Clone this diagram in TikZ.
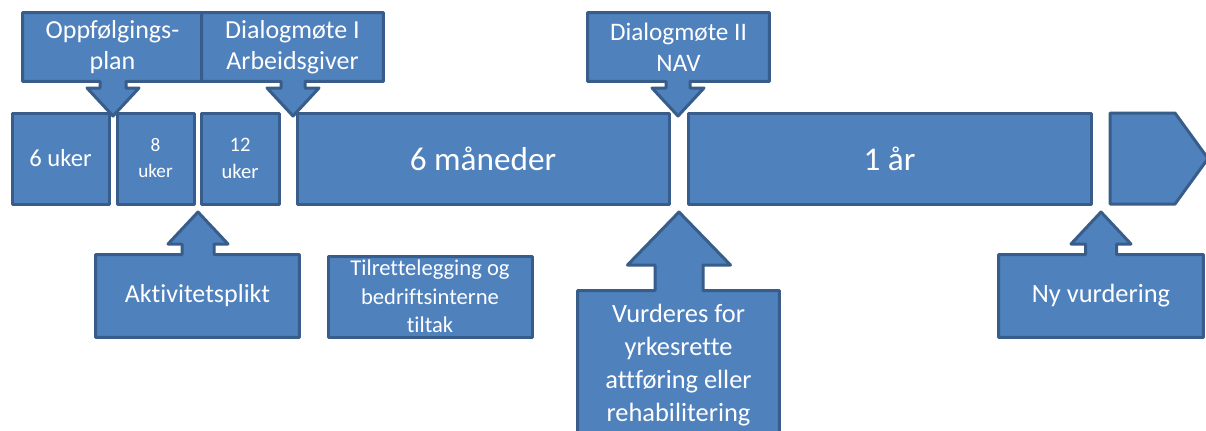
\documentclass[tikz,border=0pt]{standalone}
\usepackage{fontspec}
\setmainfont{Carlito}[Ligatures=CommonOff]
\usetikzlibrary{calc,backgrounds}
\definecolor{boxfill}{HTML}{4F81BD}
\definecolor{boxline}{HTML}{385D8A}
\tikzset{
  shp/.style={fill=boxfill, draw=boxline, line width=1.5pt, line join=round},
  blk/.style={shp, rectangle, inner sep=0pt, text=white, align=center},
  lbl/.style={rectangle, inner sep=0pt, text=white, align=center},
}
\newcommand\mycalldown[5]{%
  \draw[shp] let \p1=(#1.north west), \p2=(#1.south east), \p3=(#2) in
  (\x1,\y1) -- (\x2,\y1) -- (\x2,\y2) -- (\x3+#3,\y2) -- (\x3+#3,\y3+#5)
  -- (\x3+#4,\y3+#5) -- (\p3) -- (\x3-#4,\y3+#5) -- (\x3-#3,\y3+#5)
  -- (\x3-#3,\y2) -- (\x1,\y2) -- cycle;}
\newcommand\mycallup[5]{%
  \draw[shp] let \p1=(#1.north west), \p2=(#1.south east), \p3=(#2) in
  (\x1,\y1) -- (\x3-#3,\y1) -- (\x3-#3,\y3-#5) -- (\x3-#4,\y3-#5) -- (\p3)
  -- (\x3+#4,\y3-#5) -- (\x3+#3,\y3-#5) -- (\x3+#3,\y1) -- (\x2,\y1)
  -- (\x2,\y2) -- (\x1,\y2) -- cycle;}
\begin{document}
\begin{tikzpicture}[x=0.5pt,y=-0.5pt]
\clip (0,0) rectangle (1206,430);

% timeline row
\node[blk, minimum width=48.5pt, minimum height=45.5pt, font=\fontsize{12.3}{14}\selectfont] (u6) at (60.5,158.5) {6 uker};
\node[blk, minimum width=38.5pt, minimum height=45.5pt, font=\fontsize{9.6}{13}\selectfont] (u8) at (155.5,158.5) {8\\uker};
\node[blk, minimum width=39pt, minimum height=45.5pt, font=\fontsize{10.3}{13.5}\selectfont] (u12) at (240,158.5) {12\\uker};
\node[blk, minimum width=186pt, minimum height=45.5pt, font=\fontsize{16.6}{20}\selectfont] (m6) at (483,158.5) {6 måneder};
\node[blk, minimum width=201.5pt, minimum height=45.5pt, font=\fontsize{16.6}{20}\selectfont] (y1) at (889.5,158.5) {1 år};
\draw[shp] (1110,113) -- (1175,113) -- (1208,158.5) -- (1175,204) -- (1110,204) -- cycle;

% arrow tips
\coordinate (t1) at (113,116);
\coordinate (t2) at (293,116);
\coordinate (t3) at (678,116);
\coordinate (t4) at (198,212);
\coordinate (t5) at (679,212);
\coordinate (t6) at (1101,212);

% callout texts
\node[lbl, minimum width=89.5pt, minimum height=34pt, font=\fontsize{13}{15.5}\selectfont] (opp) at (112.5,47) {Oppfølgings-\\plan};
\node[lbl, minimum width=90.5pt, minimum height=34pt, font=\fontsize{13}{15.5}\selectfont] (dm1) at (292.5,47) {Dialogmøte I\\Arbeidsgiver};
\node[lbl, minimum width=90.5pt, minimum height=34pt, font=\fontsize{12.6}{15.5}\selectfont] (dm2) at (678.5,47) {Dialogmøte II\\NAV};
\node[lbl, minimum width=101.5pt, minimum height=41pt, font=\fontsize{13}{15.5}\selectfont] (akt) at (197.5,296) {Aktivitetsplikt};
\node[lbl, minimum width=100.5pt, minimum height=74pt, font=\fontsize{13.2}{16.5}\selectfont] (vur) at (678.5,365) {Vurderes for\\yrkesrette\\attføring eller\\rehabilitering};
\node[lbl, minimum width=102pt, minimum height=41pt, font=\fontsize{13.2}{15.5}\selectfont] (ny) at (1101,296) {Ny vurdering};
\node[blk, minimum width=102pt, minimum height=40.5pt, font=\fontsize{11.3}{14.2}\selectfont] (til) at (430,296.5) {Tilrettelegging og\\bedriftsinterne\\tiltak};

\begin{pgfonlayer}{background}
\fill[white] (0,0) rectangle (1206,430);
\mycalldown{opp}{t1}{6.5pt}{13pt}{14pt}
\mycalldown{dm1}{t2}{6pt}{13pt}{14pt}
\mycalldown{dm2}{t3}{6pt}{13pt}{14pt}
\mycallup{akt}{t4}{8pt}{15pt}{16pt}
\mycallup{vur}{t5}{12pt}{25.75pt}{26.5pt}
\mycallup{ny}{t6}{7.75pt}{15pt}{16pt}
\end{pgfonlayer}
\end{tikzpicture}
\end{document}
